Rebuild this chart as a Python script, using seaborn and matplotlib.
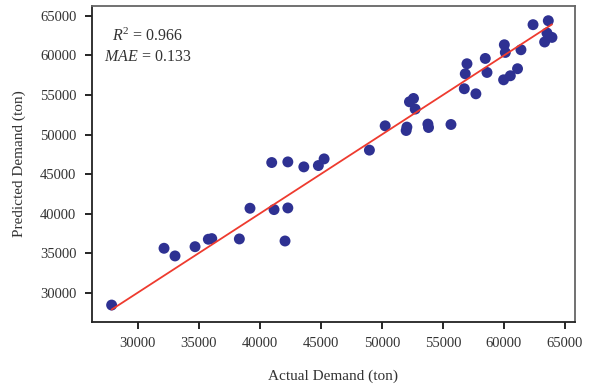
import numpy as np
import pandas as pd
import matplotlib
matplotlib.use("Agg")
import matplotlib.pyplot as plt
import seaborn as sns

actual = [27870, 32160, 33060, 34700, 35790, 36070, 38330, 39200, 41170, 42300,
          42070, 40980, 42300, 43610, 44800, 45270, 48980, 50270, 52050, 51990,
          53770, 53820, 55660, 52260, 52590, 52730, 56750, 57700, 56830, 56970,
          58470, 58610, 59970, 60520, 61110, 60110, 60030, 61390, 62380, 63630,
          63520, 63330, 63930]
predicted = [28440, 35620, 34650, 35820, 36760, 36840, 36800, 40680, 40510, 40720,
             36540, 46460, 46540, 45910, 46080, 46920, 48030, 51100, 50940, 50510,
             51320, 50890, 51270, 54140, 54560, 53220, 55790, 55150, 57680, 58950,
             59620, 57850, 56920, 57430, 58320, 60380, 61350, 60720, 63890, 64390,
             62840, 61700, 62280]
xticks = [30000, 35000, 40000, 45000, 50000, 55000, 60000, 65000]
yticks = [30000, 35000, 40000, 45000, 50000, 55000, 60000, 65000]
stats_text = "$R^2$ = 0.966\n$MAE$ = 0.133"

df = pd.DataFrame({"Actual": actual, "Predicted": predicted})
# ideal-fit (y = x) line across the range of actual demand
ideal = pd.DataFrame({"x": [min(actual), max(actual)],
                      "y": [min(actual), max(actual)]})

sns.set_style("white")
plt.rcParams["font.family"] = ["Liberation Serif", "DejaVu Serif"]
plt.rcParams["mathtext.fontset"] = "custom"
plt.rcParams["mathtext.rm"] = "Liberation Serif"
plt.rcParams["mathtext.it"] = "Liberation Serif:italic"

fig = plt.figure(figsize=(5.91, 3.90), dpi=100)
ax = fig.add_axes([0.155, 0.175, 0.818, 0.810])

sns.scatterplot(data=df, x="Actual", y="Predicted", ax=ax, s=62, color="#2E3192",
                edgecolor="none", zorder=3)
sns.lineplot(data=ideal, x="x", y="y", ax=ax, color="#EE3B2F", lw=1.3, zorder=4)

ax.set_xlim(26230, 65820)
ax.set_ylim(26330, 66270)
ax.set_xticks(xticks)
ax.set_yticks(yticks)
ax.set_xticklabels([str(t) for t in xticks], fontsize=10.5, color="#333333")
ax.set_yticklabels([str(t) for t in yticks], fontsize=10.5, color="#333333")
ax.tick_params(axis="both", direction="out", length=5, width=1.2, color="black",
               bottom=True, left=True, top=False, right=False, pad=6)
ax.set_xlabel("Actual Demand (ton)", fontsize=11, color="#333333", labelpad=14)
ax.set_ylabel("Predicted Demand (ton)", fontsize=11, color="#333333", labelpad=10)

for side in ["left", "bottom"]:
    ax.spines[side].set_color("#222222")
    ax.spines[side].set_linewidth(1.3)
for side in ["top", "right"]:
    ax.spines[side].set_color("#666666")
    ax.spines[side].set_linewidth(1.3)

ax.text(0.117, 0.93, stats_text, transform=ax.transAxes, ha="center", va="top",
        multialignment="center", fontsize=11.5, color="#333333", linespacing=1.3)

fig.savefig("out.png", dpi=100)
